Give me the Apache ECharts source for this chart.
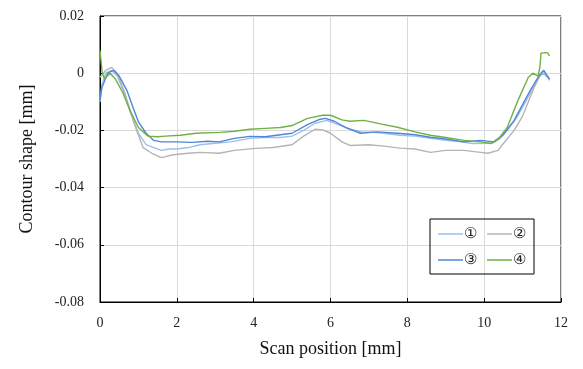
<!DOCTYPE html>
<html>
<head>
<meta charset="utf-8">
<script src="https://cdn.jsdelivr.net/npm/echarts@6/dist/echarts.min.js"></script>
<style>
  html, body { margin: 0; padding: 0; background: #fff; }
  #chart { width: 583px; height: 369px; }
</style>
</head>
<body>
<div id="chart"></div>
<script>
// scan position [mm], contour shape [mm]
const curve1 = [[0,-0.010],[0.05,-0.004],[0.15,0],[0.3,0.001],[0.45,-0.001],[0.6,-0.006],[0.8,-0.014],[1.0,-0.021],[1.2,-0.025],[1.4,-0.026],[1.6,-0.027],[1.8,-0.0265],[2.0,-0.0265],[2.3,-0.026],[2.6,-0.025],[3.0,-0.0245],[3.4,-0.024],[3.9,-0.0228],[4.3,-0.0225],[4.7,-0.0225],[5.0,-0.022],[5.3,-0.020],[5.6,-0.0175],[5.9,-0.0165],[6.2,-0.018],[6.5,-0.0195],[6.8,-0.0205],[7.1,-0.0207],[7.4,-0.021],[7.8,-0.0217],[8.2,-0.022],[8.6,-0.0228],[9.0,-0.0235],[9.4,-0.024],[9.7,-0.0246],[10.0,-0.0245],[10.2,-0.0245],[10.4,-0.023],[10.6,-0.020],[10.8,-0.0165],[11.0,-0.012],[11.2,-0.007],[11.4,-0.002],[11.5,0],[11.55,0.001],[11.6,-0.001],[11.7,-0.002]];
const curve2 = [[0,-0.0014],[0.15,0.001],[0.3,0.002],[0.45,0],[0.65,-0.007],[0.9,-0.018],[1.12,-0.026],[1.35,-0.028],[1.6,-0.0295],[1.9,-0.0285],[2.3,-0.028],[2.6,-0.0277],[3.1,-0.028],[3.5,-0.027],[4.05,-0.0263],[4.5,-0.026],[5.0,-0.025],[5.3,-0.022],[5.6,-0.0196],[5.8,-0.0198],[6.0,-0.021],[6.3,-0.024],[6.52,-0.0253],[7.0,-0.025],[7.4,-0.0255],[7.8,-0.0262],[8.2,-0.0265],[8.6,-0.0277],[9.0,-0.027],[9.47,-0.027],[9.91,-0.0277],[10.1,-0.028],[10.36,-0.027],[10.5,-0.0246],[10.78,-0.020],[11.0,-0.015],[11.3,-0.005],[11.45,-0.001],[11.56,0],[11.65,-0.001],[11.7,-0.0025]];
const curve3 = [[0,-0.0095],[0.05,-0.005],[0.2,0],[0.35,0.001],[0.5,-0.001],[0.7,-0.006],[0.86,-0.012],[1.0,-0.017],[1.2,-0.021],[1.4,-0.0235],[1.6,-0.024],[2.0,-0.024],[2.4,-0.0242],[2.8,-0.0238],[3.1,-0.024],[3.5,-0.0228],[3.9,-0.0221],[4.3,-0.0222],[4.7,-0.0215],[5.0,-0.021],[5.4,-0.018],[5.7,-0.0162],[5.87,-0.0158],[6.1,-0.0168],[6.4,-0.019],[6.78,-0.021],[7.2,-0.0205],[7.74,-0.021],[8.2,-0.0215],[8.6,-0.0224],[9.0,-0.023],[9.47,-0.024],[9.9,-0.0235],[10.26,-0.024],[10.5,-0.0215],[10.78,-0.0165],[11.0,-0.011],[11.2,-0.006],[11.4,-0.0015],[11.48,0],[11.55,0.001],[11.65,-0.001],[11.7,-0.002]];
const curve4 = [[0,0.008],[0.03,0.008],[0.06,0],[0.12,-0.002],[0.26,0],[0.4,-0.002],[0.6,-0.007],[0.78,-0.013],[1.0,-0.019],[1.25,-0.022],[1.5,-0.0222],[1.7,-0.022],[2.09,-0.0217],[2.5,-0.021],[3.13,-0.0207],[3.5,-0.0203],[3.9,-0.0196],[4.3,-0.0193],[4.7,-0.019],[5.0,-0.0183],[5.4,-0.0158],[5.8,-0.0147],[6.0,-0.0147],[6.3,-0.0163],[6.5,-0.0168],[6.87,-0.0165],[7.3,-0.0177],[7.74,-0.0189],[8.2,-0.0205],[8.6,-0.0217],[9.0,-0.0225],[9.47,-0.0235],[9.91,-0.024],[10.17,-0.0246],[10.4,-0.0225],[10.6,-0.019],[10.88,-0.0095],[11.15,-0.0014],[11.27,0],[11.4,-0.001],[11.45,0.002],[11.48,0.007],[11.6,0.0072],[11.66,0.007],[11.7,0.006]];

const seriesNames = ['①', '②', '③', '④'];
const seriesData = [curve1, curve2, curve3, curve4];
const seriesColors = ['#9cc0ea', '#b4b4b4', '#4f86d6', '#72b044'];

const FONT = '"Liberation Serif", "DejaVu Serif", serif';

const chart = echarts.init(document.getElementById('chart'));

chart.setOption({
  animation: false,
  grid: {
    left: 100,
    right: 22,
    top: 16,
    bottom: 67,
    show: true,
    borderColor: '#000',
    borderWidth: 1,
  },
  legend: {
    left: 430,
    top: 219,
    width: 100,
    padding: [7, 8, 6, 8],
    icon: 'rect',
    itemWidth: 25,
    itemHeight: 1.5,
    itemGap: 10,
    borderColor: '#000',
    borderWidth: 1,
    data: seriesNames,
    textStyle: { fontFamily: FONT, fontSize: 15, color: '#222', padding: [0, 0, 0, -4], lineHeight: 16 },
  },
  xAxis: {
    type: 'value',
    min: 0,
    max: 12,
    interval: 2,
    name: 'Scan position [mm]',
    nameLocation: 'middle',
    nameGap: 38,
    nameTextStyle: { fontFamily: FONT, fontSize: 18, color: '#111' },
    axisLine: { onZero: false, lineStyle: { color: '#000', width: 1 } },
    axisTick: { show: true, inside: true, length: 4, lineStyle: { color: '#000' } },
    axisLabel: { fontFamily: FONT, fontSize: 14, color: '#222', margin: 14 },
    splitLine: { show: true, lineStyle: { color: '#d9d9d9', width: 1 } },
  },
  yAxis: {
    type: 'value',
    min: -0.08,
    max: 0.02,
    interval: 0.02,
    name: 'Contour shape [mm]',
    nameLocation: 'middle',
    nameGap: 64,
    nameTextStyle: { fontFamily: FONT, fontSize: 18, color: '#111' },
    axisLine: { show: true, onZero: false, lineStyle: { color: '#000', width: 1 } },
    axisTick: { show: true, inside: true, length: 4, lineStyle: { color: '#000' } },
    axisLabel: {
      fontFamily: FONT,
      fontSize: 14,
      color: '#222',
      margin: 16,
      formatter: (v) => (Math.abs(v) < 1e-9 ? '0' : String(+v.toFixed(2))),
    },
    splitLine: { show: true, lineStyle: { color: '#d9d9d9', width: 1 } },
  },
  series: seriesNames.map((name, i) => ({
    name,
    type: 'line',
    data: seriesData[i],
    symbol: 'none',
    smooth: false,
    lineStyle: { color: seriesColors[i], width: 1.4 },
    itemStyle: { color: seriesColors[i] },
  })),
});
</script>
</body>
</html>
